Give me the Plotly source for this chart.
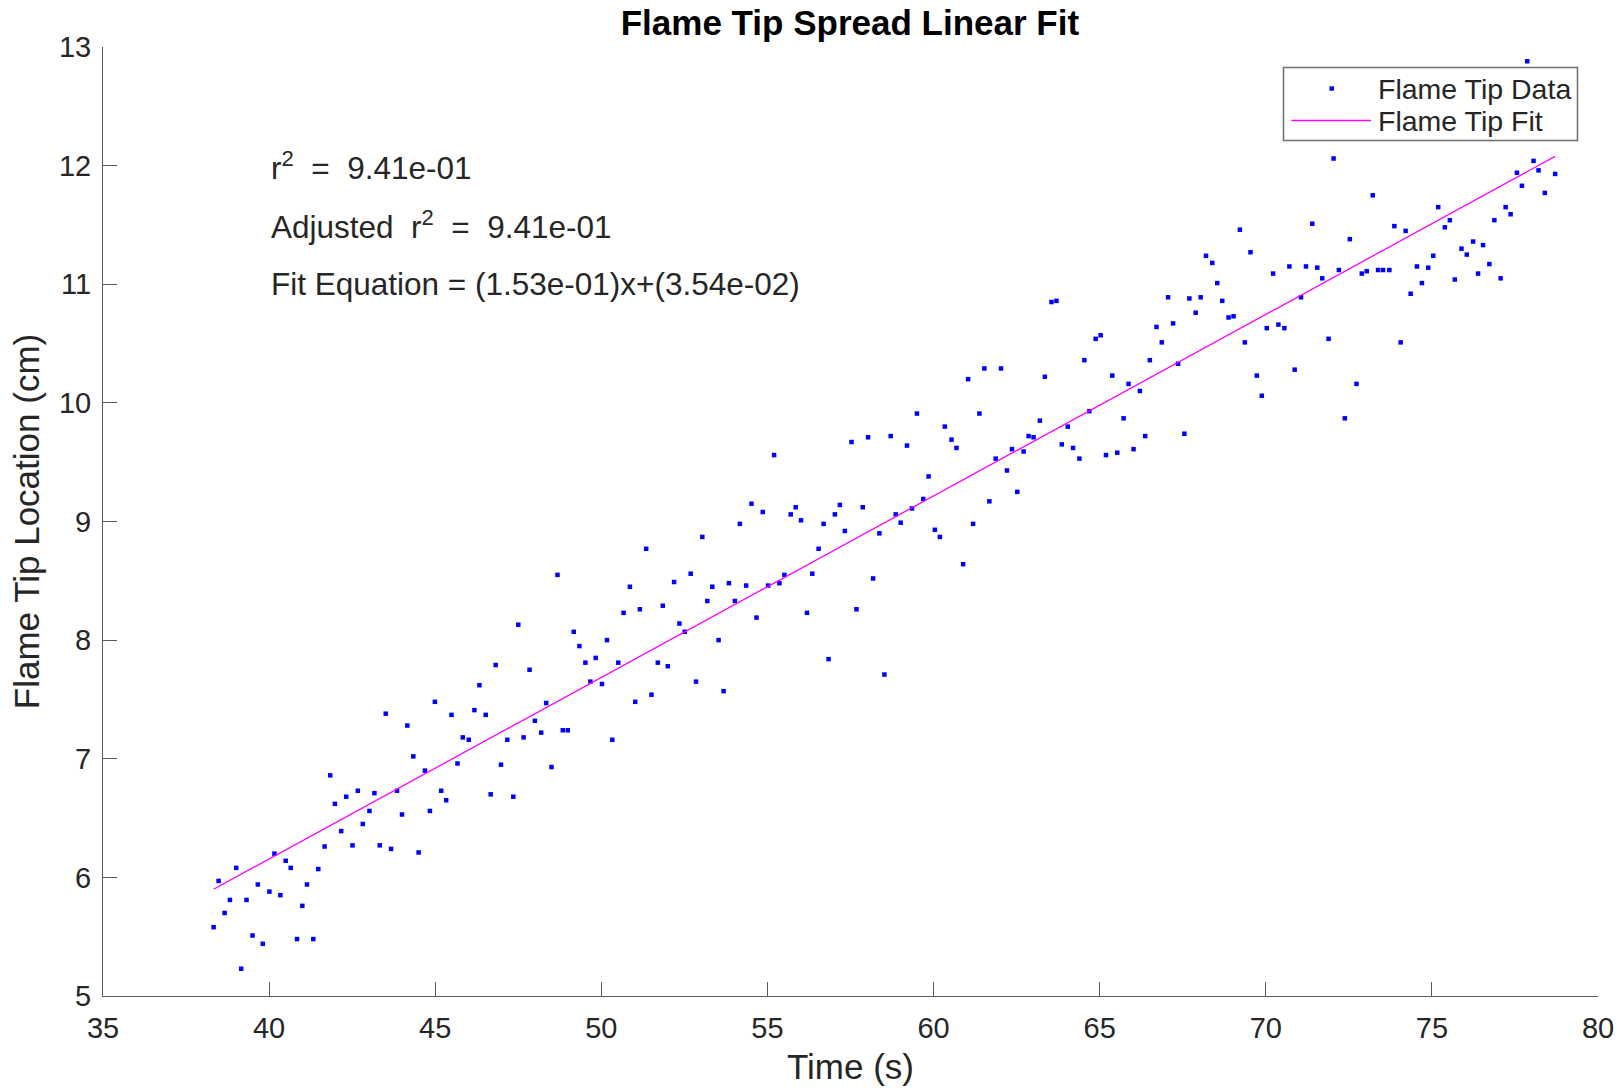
import plotly.graph_objects as go

# ---- data ----
time_s = [
    38.33, 38.48, 38.66, 38.82, 39.01, 39.16, 39.32, 39.50, 39.66, 39.81,
    40.01, 40.16, 40.34, 40.50, 40.65, 40.84, 41.00, 41.14, 41.33, 41.48,
    41.67, 41.84, 41.98, 42.17, 42.32, 42.51, 42.67, 42.82, 43.02, 43.17,
    43.33, 43.51, 43.67, 43.85, 44.00, 44.16, 44.34, 44.50, 44.69, 44.84,
    44.99, 45.18, 45.33, 45.49, 45.67, 45.83, 46.01, 46.18, 46.33, 46.52,
    46.67, 46.82, 46.98, 47.17, 47.35, 47.50, 47.66, 47.84, 48.00, 48.19,
    48.34, 48.50, 48.68, 48.84, 48.99, 49.17, 49.34, 49.52, 49.67, 49.83,
    50.02, 50.17, 50.33, 50.51, 50.67, 50.86, 51.02, 51.16, 51.35, 51.51,
    51.70, 51.85, 52.00, 52.19, 52.35, 52.51, 52.69, 52.85, 53.04, 53.19,
    53.34, 53.53, 53.68, 53.84, 54.02, 54.17, 54.36, 54.52, 54.67, 54.86,
    55.02, 55.20, 55.36, 55.51, 55.70, 55.85, 56.01, 56.19, 56.35, 56.54,
    56.69, 56.84, 57.03, 57.18, 57.33, 57.53, 57.68, 57.87, 58.03, 58.18,
    58.37, 58.52, 58.71, 58.86, 59.01, 59.20, 59.35, 59.50, 59.69, 59.85,
    60.04, 60.19, 60.34, 60.54, 60.69, 60.89, 61.04, 61.19, 61.38, 61.53,
    61.68, 61.87, 62.03, 62.21, 62.36, 62.52, 62.71, 62.86, 63.01, 63.20,
    63.35, 63.55, 63.70, 63.86, 64.04, 64.20, 64.39, 64.54, 64.69, 64.88,
    65.03, 65.19, 65.38, 65.53, 65.72, 65.87, 66.02, 66.21, 66.37, 66.51,
    66.71, 66.87, 67.06, 67.21, 67.36, 67.55, 67.70, 67.89, 68.04, 68.20,
    68.39, 68.54, 68.69, 68.88, 69.03, 69.22, 69.37, 69.54, 69.73, 69.88,
    70.03, 70.22, 70.38, 70.56, 70.71, 70.87, 71.06, 71.21, 71.40, 71.55,
    71.70, 71.89, 72.04, 72.20, 72.38, 72.53, 72.73, 72.89, 73.04, 73.22,
    73.38, 73.53, 73.72, 73.87, 74.06, 74.21, 74.36, 74.55, 74.70, 74.89,
    75.04, 75.19, 75.39, 75.54, 75.69, 75.89, 76.05, 76.24, 76.39, 76.54,
    76.73, 76.88, 77.07, 77.22, 77.37, 77.56, 77.71, 77.87, 78.06, 78.21,
    78.40, 78.71,
]
tip_cm = [
    5.58, 5.97, 5.70, 5.81, 6.08, 5.23, 5.81, 5.51, 5.94, 5.44,
    5.88, 6.20, 5.85, 6.14, 6.08, 5.48, 5.76, 5.94, 5.48, 6.07,
    6.26, 6.86, 6.62, 6.39, 6.68, 6.27, 6.73, 6.45, 6.56, 6.71,
    6.27, 7.38, 6.24, 6.73, 6.53, 7.28, 7.02, 6.21, 6.90, 6.56,
    7.48, 6.73, 6.65, 7.37, 6.96, 7.18, 7.16, 7.41, 7.62, 7.37,
    6.70, 7.79, 6.95, 7.16, 6.68, 8.13, 7.18, 7.75, 7.32, 7.22,
    7.47, 6.93, 8.55, 7.24, 7.24, 8.07, 7.95, 7.81, 7.65, 7.85,
    7.63, 8.00, 7.16, 7.81, 8.23, 8.45, 7.48, 8.26, 8.77, 7.54,
    7.81, 8.29, 7.78, 8.49, 8.14, 8.07, 8.56, 7.65, 8.87, 8.33,
    8.45, 8.00, 7.57, 8.48, 8.33, 8.98, 8.46, 9.15, 8.19, 9.08,
    8.46, 9.56, 8.48, 8.55, 9.06, 9.12, 9.01, 8.23, 8.56, 8.77,
    8.98, 7.84, 9.06, 9.14, 8.92, 9.67, 8.26, 9.12, 9.71, 8.52,
    8.90, 7.71, 9.72, 9.06, 8.99, 9.64, 9.11, 9.91, 9.19, 9.38,
    8.93, 8.87, 9.80, 9.69, 9.62, 8.64, 10.20, 8.98, 9.91, 10.29,
    9.17, 9.53, 10.29, 9.43, 9.61, 9.25, 9.59, 9.72, 9.71, 9.85,
    10.22, 10.85, 10.86, 9.65, 9.80, 9.62, 9.53, 10.36, 9.93, 10.54,
    10.57, 9.56, 10.23, 9.58, 9.87, 10.16, 9.61, 10.10, 9.72, 10.36,
    10.64, 10.51, 10.89, 10.67, 10.33, 9.74, 10.88, 10.76, 10.89, 11.24,
    11.18, 11.01, 10.86, 10.72, 10.73, 11.46, 10.51, 11.27, 10.23, 10.06,
    10.63, 11.09, 10.66, 10.63, 11.15, 10.28, 10.89, 11.15, 11.51, 11.14,
    11.05, 10.54, 12.06, 11.12, 9.87, 11.38, 10.16, 11.09, 11.11, 11.75,
    11.12, 11.12, 11.12, 11.49, 10.51, 11.45, 10.92, 11.15, 11.01, 11.14,
    11.24, 11.65, 11.48, 11.54, 11.04, 11.30, 11.25, 11.36, 11.09, 11.33,
    11.17, 11.54, 11.05, 11.65, 11.59, 11.94, 11.83, 12.88, 12.04, 11.96,
    11.77, 11.93,
]

series_names = ["Flame Tip Data", "Flame Tip Fit"]
fit_slope = 1.53e-01
fit_intercept = 3.54e-02
r2_text = "9.41e-01"
adj_r2_text = "9.41e-01"

x_ticks = [35, 40, 45, 50, 55, 60, 65, 70, 75, 80]
y_ticks = [5, 6, 7, 8, 9, 10, 11, 12, 13]

fit_x = [time_s[0], time_s[-1]]
fit_y = [fit_slope * v + fit_intercept for v in fit_x]

FONT = "Liberation Sans, Arial, Helvetica, sans-serif"
TXT = "#262626"
AX = "#5a5a5a"
W, H = 1622, 1088
ML, MR, MT, MB = 103, 24, 47, 92
PW, PH = W - ML - MR, H - MT - MB


def px(x):  # page pixel -> paper fraction (horizontal)
    return (x - ML) / PW


def py(y):  # page pixel -> paper fraction (vertical)
    return 1 - (y - MT) / PH


fig = go.Figure()
fig.add_trace(go.Scatter(
    x=time_s, y=tip_cm, mode="markers", name=series_names[0], showlegend=False,
    marker=dict(symbol="square", size=4.5, color="#0000ff", line=dict(width=0)),
))
fig.add_trace(go.Scatter(
    x=fit_x, y=fit_y, mode="lines", name=series_names[1], showlegend=False,
    line=dict(color="#ff00ff", width=1.3),
))

nb = "\u00a0"
ann_lines = [
    (12.0, f"r<sup>2</sup>{nb} ={nb} {r2_text}"),
    (11.5, f"Adjusted{nb} r<sup>2</sup>{nb} ={nb} {adj_r2_text}"),
    (11.0, f"Fit Equation = ({fit_slope:.2e})x+({fit_intercept:.2e})"),
]
annotations = [
    dict(x=40.0, y=yy, xref="x", yref="y", text=t, showarrow=False,
         xanchor="left", yanchor="middle",
         font=dict(family=FONT, size=31.5, color=TXT))
    for yy, t in ann_lines
]

# legend (MATLAB style box)
leg_rows = [88.5, 120.5]
for name, ry in zip(series_names, leg_rows):
    annotations.append(dict(
        x=px(1376), y=py(ry), xref="paper", yref="paper", text=name,
        showarrow=False, xanchor="left", yanchor="middle",
        font=dict(family=FONT, size=28.5, color=TXT)))

shapes = [
    dict(type="rect", xref="paper", yref="paper",
         x0=px(1283.5), x1=px(1577.5), y0=py(67.5), y1=py(140.5),
         line=dict(color="#6e6e6e", width=1.5), fillcolor="white", layer="above"),
    dict(type="rect", xref="paper", yref="paper",
         x0=px(1329.5), x1=px(1334), y0=py(leg_rows[0] - 2.2), y1=py(leg_rows[0] + 2.2),
         line=dict(width=0), fillcolor="#0000ff", layer="above"),
    dict(type="line", xref="paper", yref="paper",
         x0=px(1291.5), x1=px(1371), y0=py(leg_rows[1]), y1=py(leg_rows[1]),
         line=dict(color="#ff00ff", width=1.3), layer="above"),
]

axis_common = dict(ticks="inside", ticklen=14, tickcolor=AX, showline=True,
                   linecolor=AX, linewidth=1, showgrid=False, zeroline=False,
                   mirror=False, automargin=False)

fig.update_layout(
    width=W, height=H,
    margin=dict(l=ML, r=MR, t=MT, b=MB, autoexpand=False),
    paper_bgcolor="white", plot_bgcolor="white",
    font=dict(family=FONT, size=29, color=TXT),
    title=dict(text="<b>Flame Tip Spread Linear Fit</b>",
               x=0.524, xanchor="center", y=1 - 23 / H, yanchor="middle",
               yref="container",
               font=dict(family=FONT, size=35, color="#000000")),
    xaxis=dict(range=[35, 80], tickvals=x_ticks,
               tickfont=dict(size=29, color=TXT), ticklabelstandoff=6,
               title=dict(text="Time (s)", font=dict(size=35, color=TXT), standoff=11),
               **axis_common),
    yaxis=dict(range=[5, 13], tickvals=y_ticks,
               tickfont=dict(size=29, color=TXT), ticklabelstandoff=5,
               title=dict(text="Flame Tip Location (cm)", font=dict(size=35, color=TXT), standoff=8),
               **axis_common),
    annotations=annotations,
    shapes=shapes,
    showlegend=False,
)

fig.write_html("out.html", config={"displayModeBar": False},
               post_script="document.body.style.margin='0';document.body.style.overflow='hidden';")
